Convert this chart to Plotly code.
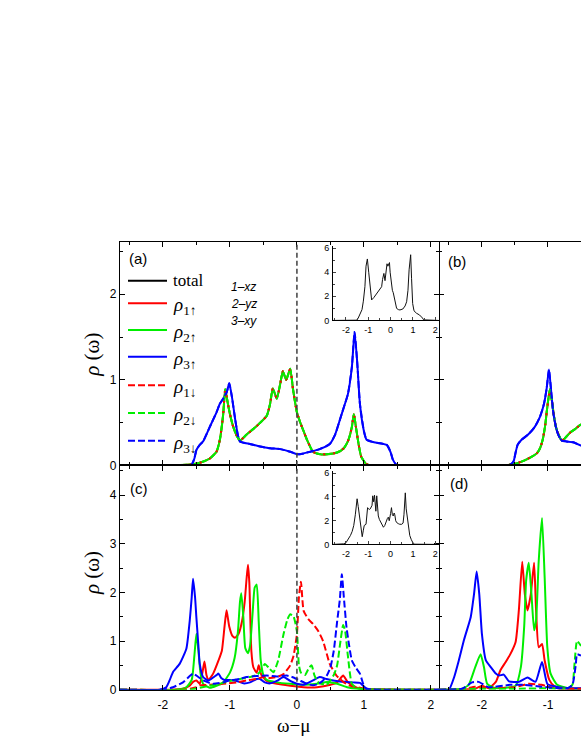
import plotly.graph_objects as go

# ---------------- data ----------------
# panel (a): paramagnetic, rho1 = rho2, up = down
a_x12 = [-2.64, -1.9, -1.6, -1.45, -1.3, -1.2, -1.15, -1.1, -1.07, -1.03, -1.0, -0.95, -0.9, -0.85, -0.75, -0.6, -0.45, -0.4, -0.36, -0.3, -0.25, -0.21, -0.16, -0.1, -0.06, -0.03, 0.0, 0.05, 0.1, 0.15, 0.24, 0.35, 0.45, 0.6, 0.7, 0.77, 0.82, 0.85, 0.88, 0.92, 0.96, 1.03, 1.1, 2.12]
a_rho12 = [0, 0, 0.01, 0.03, 0.08, 0.16, 0.3, 0.6, 0.89, 0.72, 0.6, 0.45, 0.35, 0.29, 0.36, 0.46, 0.58, 0.72, 0.9, 0.78, 0.95, 1.1, 1.0, 1.13, 0.9, 0.75, 0.62, 0.5, 0.4, 0.3, 0.16, 0.13, 0.13, 0.15, 0.2, 0.3, 0.45, 0.6, 0.45, 0.25, 0.1, 0.02, 0, 0]
a_x3 = [-2.64, -1.6, -1.57, -1.53, -1.5, -1.45, -1.4, -1.3, -1.2, -1.15, -1.1, -1.05, -1.01, -0.97, -0.92, -0.88, -0.85, -0.7, -0.55, -0.4, -0.25, -0.1, 0.0, 0.1, 0.2, 0.34, 0.49, 0.57, 0.64, 0.7, 0.76, 0.82, 0.86, 0.9, 0.94, 1.0, 1.04, 1.15, 1.34, 1.4, 1.43, 1.48, 1.55, 2.12]
a_rho3 = [0, 0, 0.01, 0.08, 0.18, 0.24, 0.28, 0.45, 0.62, 0.72, 0.78, 0.85, 0.96, 0.8, 0.53, 0.35, 0.28, 0.25, 0.22, 0.2, 0.19, 0.16, 0.13, 0.14, 0.16, 0.19, 0.25, 0.36, 0.53, 0.68, 0.83, 1.15, 1.56, 1.2, 0.72, 0.4, 0.3, 0.27, 0.24, 0.15, 0.07, 0.01, 0, 0]

# panel (b)
b_x12 = [-2.65, -1.65, -1.5, -1.38, -1.25, -1.17, -1.12, -1.08, -1.04, -1.02, -0.99, -0.97, -0.94, -0.91, -0.88, -0.84, -0.79, -0.74, -0.67, -0.58, -0.5]
b_rho12 = [0, 0, 0.02, 0.05, 0.1, 0.14, 0.2, 0.3, 0.48, 0.62, 0.8, 0.89, 0.75, 0.58, 0.45, 0.36, 0.29, 0.32, 0.38, 0.43, 0.48]
b_x3 = [-2.65, -1.62, -1.57, -1.52, -1.49, -1.46, -1.4, -1.3, -1.2, -1.12, -1.06, -1.02, -0.985, -0.95, -0.92, -0.88, -0.84, -0.79, -0.72, -0.62, -0.5]
b_rho3 = [0, 0, 0.01, 0.05, 0.15, 0.24, 0.3, 0.36, 0.45, 0.57, 0.72, 0.9, 1.12, 0.85, 0.62, 0.45, 0.35, 0.29, 0.28, 0.27, 0.23]

# panel (c)
c_x_r_up = [-2.64, -1.9, -1.7, -1.6, -1.55, -1.5, -1.45, -1.41, -1.38, -1.35, -1.32, -1.25, -1.17, -1.12, -1.08, -1.05, -1.01, -0.96, -0.92, -0.87, -0.82, -0.78, -0.75, -0.73, -0.71, -0.68, -0.65, -0.6, -0.57, -0.53, -0.45, -0.3, -0.1, 0.1, 0.3, 0.5, 0.6, 0.69, 0.76, 0.84, 0.95, 2.12]
c_r_up = [0, 0, 0.02, 0.08, 0.16, 0.19, 0.12, 0.35, 0.58, 0.3, 0.2, 0.33, 0.6, 0.8, 1.3, 1.63, 1.3, 1.1, 1.07, 1.15, 1.4, 1.8, 2.3, 2.57, 2.2, 0.8, 0.46, 0.35, 0.5, 0.3, 0.18, 0.12, 0.08, 0.05, 0.05, 0.1, 0.15, 0.29, 0.15, 0.08, 0.02, 0]
c_x_g_up = [-2.64, -1.8, -1.65, -1.57, -1.53, -1.5, -1.47, -1.44, -1.4, -1.3, -1.2, -1.1, -1.0, -0.93, -0.88, -0.85, -0.83, -0.8, -0.77, -0.73, -0.7, -0.66, -0.63, -0.6, -0.57, -0.54, -0.5, -0.45, -0.3, -0.1, 0.1, 0.3, 0.45, 0.6, 0.75, 0.9, 2.12]
c_g_up = [0, 0, 0.05, 0.2, 0.7, 1.15, 0.8, 0.35, 0.12, 0.04, 0.08, 0.15, 0.35, 0.65, 1.2, 1.8, 1.98, 1.5, 0.85, 0.75, 0.9, 1.6, 2.1, 2.16, 1.4, 0.6, 0.3, 0.2, 0.15, 0.12, 0.1, 0.12, 0.16, 0.12, 0.05, 0.02, 0]
c_x_b_up = [-2.64, -2.05, -1.95, -1.9, -1.85, -1.75, -1.65, -1.6, -1.57, -1.55, -1.52, -1.5, -1.47, -1.45, -1.4, -1.32, -1.25, -1.2, -1.17, -1.13, -1.08, -1.0, -0.9, -0.8, -0.7, -0.6, -0.55, -0.48, -0.4, -0.3, -0.2, -0.1, 0.0, 0.1, 0.24, 0.34, 0.44, 0.54, 0.64, 0.74, 0.84, 0.94, 1.01, 1.05, 2.12]
c_b_up = [0, 0, 0.05, 0.19, 0.36, 0.53, 0.84, 1.41, 1.9, 2.28, 1.9, 1.48, 0.9, 0.53, 0.26, 0.19, 0.25, 0.3, 0.33, 0.24, 0.2, 0.2, 0.18, 0.13, 0.15, 0.22, 0.22, 0.15, 0.13, 0.18, 0.26, 0.18, 0.12, 0.1, 0.19, 0.26, 0.22, 0.19, 0.17, 0.16, 0.15, 0.14, 0.05, 0.0, 0]
c_x_r_dn = [-2.64, -1.7, -1.5, -1.45, -1.3, -1.1, -0.9, -0.75, -0.6, -0.5, -0.4, -0.3, -0.2, -0.1, -0.05, 0.0, 0.03, 0.06, 0.1, 0.17, 0.24, 0.32, 0.39, 0.49, 0.59, 0.7, 0.8, 0.94, 1.05, 2.12]
c_r_dn = [0, 0, 0.05, 0.09, 0.1, 0.12, 0.15, 0.19, 0.22, 0.26, 0.24, 0.26, 0.32, 0.5, 0.7, 1.14, 1.9, 2.22, 1.62, 1.45, 1.35, 1.2, 1.0, 0.53, 0.29, 0.15, 0.08, 0.04, 0.01, 0]
c_x_g_dn = [-2.64, -1.6, -1.45, -1.3, -1.15, -1.0, -0.85, -0.7, -0.6, -0.53, -0.48, -0.42, -0.35, -0.28, -0.2, -0.14, -0.1, -0.05, 0.0, 0.03, 0.06, 0.12, 0.18, 0.22, 0.26, 0.32, 0.44, 0.55, 0.6, 0.64, 0.69, 0.72, 0.76, 0.82, 0.9, 2.12]
c_g_dn = [0, 0, 0.04, 0.08, 0.12, 0.18, 0.22, 0.26, 0.3, 0.4, 0.53, 0.45, 0.36, 0.6, 1.14, 1.45, 1.55, 1.5, 1.2, 0.5, 0.35, 0.3, 0.45, 0.5, 0.3, 0.15, 0.1, 0.3, 0.5, 0.9, 1.33, 1.2, 0.7, 0.12, 0.03, 0]
c_x_b_dn = [-2.64, -2.0, -1.85, -1.7, -1.6, -1.55, -1.48, -1.4, -1.25, -1.1, -1.0, -0.85, -0.75, -0.6, -0.45, -0.3, -0.15, -0.05, 0.04, 0.15, 0.24, 0.32, 0.39, 0.45, 0.5, 0.55, 0.6, 0.64, 0.67, 0.7, 0.74, 0.78, 0.82, 0.88, 0.94, 1.01, 1.08, 2.12]
c_b_dn = [0, 0, 0.05, 0.15, 0.28, 0.33, 0.27, 0.19, 0.12, 0.15, 0.19, 0.22, 0.26, 0.28, 0.29, 0.27, 0.29, 0.25, 0.19, 0.12, 0.09, 0.12, 0.19, 0.3, 0.46, 0.8, 1.4, 1.85, 2.37, 1.9, 1.28, 0.9, 0.6, 0.45, 0.33, 0.05, 0.01, 0]

# panel (d) (only the visible part)
d_x_r_up = [-2.65, -2.1, -2.0, -1.9, -1.79, -1.72, -1.64, -1.57, -1.49, -1.44, -1.39, -1.35, -1.31, -1.26, -1.21, -1.18, -1.14, -1.09, -1.05, -0.98, -0.91, -0.8, -0.5]
d_r_up = [0, 0.02, 0.08, 0.03, 0.16, 0.4, 0.57, 0.73, 0.98, 1.65, 2.63, 1.96, 1.63, 1.96, 2.61, 1.63, 0.87, 0.94, 0.6, 0.2, 0.08, 0.03, 0.02]
d_x_g_up = [-2.65, -2.3, -2.2, -2.1, -2.02, -1.97, -1.92, -1.79, -1.49, -1.41, -1.36, -1.33, -1.29, -1.25, -1.21, -1.18, -1.14, -1.09, -1.05, -1.01, -0.96, -0.86, -0.7, -0.5]
d_g_up = [0, 0.02, 0.1, 0.47, 0.73, 0.47, 0.12, 0.03, 0.08, 0.47, 1.3, 2.25, 2.61, 1.96, 1.22, 1.43, 2.65, 3.53, 2.3, 0.87, 0.33, 0.1, 0.03, 0.02]
d_x_b_up = [-2.65, -2.5, -2.42, -2.35, -2.27, -2.17, -2.12, -2.08, -2.04, -2.0, -1.94, -1.87, -1.79, -1.74, -1.67, -1.59, -1.44, -1.31, -1.19, -1.09, -1.01, -0.91, -0.7, -0.5]
d_b_up = [0, 0.0, 0.26, 0.6, 1.03, 1.49, 1.96, 2.43, 1.96, 1.14, 0.6, 0.47, 0.33, 0.29, 0.31, 0.17, 0.16, 0.25, 0.16, 0.57, 0.12, 0.07, 0.03, 0.03]
d_x_r_dn = [-2.65, -2.3, -2.1, -1.9, -1.5, -1.3, -1.1, -0.9, -0.5]
d_r_dn = [0, 0.01, 0.06, 0.03, 0.05, 0.12, 0.1, 0.03, 0.02]
d_x_g_dn = [-2.65, -2.0, -1.5, -1.0, -0.7, -0.63, -0.6, -0.56, -0.5]
d_g_dn = [0, 0.02, 0.02, 0.03, 0.03, 0.1, 0.5, 1.0, 0.9]
d_x_b_dn = [-2.65, -2.3, -2.15, -2.05, -1.9, -1.57, -1.37, -1.1, -0.7, -0.63, -0.58, -0.56, -0.5]
d_b_dn = [0, 0.02, 0.15, 0.16, 0.05, 0.1, 0.1, 0.06, 0.03, 0.1, 0.5, 0.73, 0.7]

# insets: total DOS
ia_x = [-2.6, -1.6, -1.52, -1.45, -1.37, -1.28, -1.22, -1.15, -1.1, -1.04, -0.98, -0.92, -0.85, -0.75, -0.63, -0.5, -0.4, -0.36, -0.3, -0.25, -0.2, -0.16, -0.12, -0.08, -0.05, -0.02, 0.03, 0.08, 0.12, 0.2, 0.27, 0.35, 0.42, 0.55, 0.65, 0.72, 0.78, 0.83, 0.87, 0.9, 0.94, 0.99, 1.05, 1.16, 1.3, 1.39, 1.43, 1.48, 2.15]
ia_total = [0, 0, 0.02, 0.2, 0.5, 0.9, 1.6, 2.8, 4.5, 5.1, 4.0, 2.6, 1.7, 1.9, 2.2, 2.5, 2.8, 3.4, 3.9, 3.3, 4.5, 4.7, 4.5, 4.8, 4.8, 4.0, 3.0, 2.5, 2.3, 1.6, 1.0, 0.9, 0.87, 0.95, 1.2, 1.55, 2.5, 4.2, 5.4, 5.45, 3.5, 1.4, 0.8, 0.6, 0.45, 0.33, 0.2, 0.05, 0]
ic_x = [-2.6, -2.25, -2.1, -2.0, -1.9, -1.8, -1.72, -1.65, -1.58, -1.53, -1.5, -1.45, -1.4, -1.33, -1.27, -1.22, -1.18, -1.1, -1.06, -1.03, -0.99, -0.95, -0.91, -0.87, -0.83, -0.8, -0.76, -0.72, -0.69, -0.66, -0.62, -0.58, -0.55, -0.5, -0.44, -0.38, -0.32, -0.26, -0.2, -0.14, -0.1, -0.06, 0.0, 0.04, 0.08, 0.12, 0.16, 0.19, 0.23, 0.27, 0.35, 0.41, 0.5, 0.56, 0.6, 0.63, 0.66, 0.7, 0.75, 0.8, 0.86, 0.93, 1.0, 1.08, 2.15]
ic_total = [0, 0, 0.05, 0.14, 0.4, 0.75, 1.1, 1.6, 2.5, 3.4, 3.85, 3.2, 2.55, 1.6, 0.65, 1.2, 1.6, 1.7, 2.5, 3.1, 3.0, 2.95, 3.0, 3.25, 3.3, 4.1, 3.6, 4.15, 3.6, 2.8, 4.1, 3.0, 2.4, 2.1, 1.85, 1.6, 1.45, 1.6, 2.0, 2.2, 2.3, 2.0, 2.6, 3.1, 2.5, 2.4, 2.65, 2.5, 2.0, 1.85, 1.75, 1.7, 1.7, 1.8, 2.5, 3.5, 4.35, 3.0, 2.15, 1.2, 0.75, 0.4, 0.14, 0.02, 0]

x_tick_vals = [-2, -1, 0, 1, 2]
x_tick_text = ["-2", "-1", "0", "1", "2"]
legend_labels = ["total", "<i>ρ</i><sub>1↑</sub>", "<i>ρ</i><sub>2↑</sub>", "<i>ρ</i><sub>3↑</sub>",
                 "<i>ρ</i><sub>1↓</sub>", "<i>ρ</i><sub>2↓</sub>", "<i>ρ</i><sub>3↓</sub>"]
orbital_notes = ["1–xz", "2–yz", "3–xy"]
panel_tags = ["(a)", "(b)", "(c)", "(d)"]

# ---------------- styling ----------------
W, H = 581, 752
RED, GREEN, BLUE = "#FF0000", "#00EE00", "#0000FF"
DASH = "7px,3px"
DOTS = "2px,8px"


def PX(p):
    return p / W


def PY(p):
    return 1 - p / H


fig = go.Figure()


def add(x, y, color, dash, xa, ya, width=2.0):
    fig.add_trace(go.Scatter(
        x=x, y=y, mode="lines", xaxis=xa, yaxis=ya, showlegend=False,
        line=dict(color=color, width=width, dash=dash,
                  shape="spline", smoothing=0.5),
        hoverinfo="skip"))


# panel (a)
add(a_x12, a_rho12, RED, "solid", "x", "y")
add(a_x12, a_rho12, GREEN, "solid", "x", "y")
add(a_x3, a_rho3, BLUE, "solid", "x", "y")
add(a_x12, a_rho12, GREEN, DASH, "x", "y")
add(a_x12, a_rho12, RED, DOTS, "x", "y")
add(a_x3, a_rho3, BLUE, DASH, "x", "y")
# panel (b)
add(b_x12, b_rho12, RED, "solid", "x2", "y2")
add(b_x12, b_rho12, GREEN, "solid", "x2", "y2")
add(b_x3, b_rho3, BLUE, "solid", "x2", "y2")
add(b_x12, b_rho12, GREEN, DASH, "x2", "y2")
add(b_x12, b_rho12, RED, DOTS, "x2", "y2")
add(b_x3, b_rho3, BLUE, DASH, "x2", "y2")
# panel (c)
add(c_x_r_up, c_r_up, RED, "solid", "x3", "y3")
add(c_x_g_up, c_g_up, GREEN, "solid", "x3", "y3")
add(c_x_b_up, c_b_up, BLUE, "solid", "x3", "y3")
add(c_x_r_dn, c_r_dn, RED, DASH, "x3", "y3")
add(c_x_g_dn, c_g_dn, GREEN, DASH, "x3", "y3")
add(c_x_b_dn, c_b_dn, BLUE, DASH, "x3", "y3")
# panel (d)
add(d_x_r_up, d_r_up, RED, "solid", "x4", "y4")
add(d_x_g_up, d_g_up, GREEN, "solid", "x4", "y4")
add(d_x_b_up, d_b_up, BLUE, "solid", "x4", "y4")
add(d_x_r_dn, d_r_dn, RED, DASH, "x4", "y4")
add(d_x_g_dn, d_g_dn, GREEN, DASH, "x4", "y4")
add(d_x_b_dn, d_b_dn, BLUE, DASH, "x4", "y4")
# insets
fig.add_trace(go.Scatter(x=ia_x, y=ia_total, mode="lines", xaxis="x5", yaxis="y5",
                         showlegend=False, line=dict(color="#111111", width=1), hoverinfo="skip"))
fig.add_trace(go.Scatter(x=ic_x, y=ic_total, mode="lines", xaxis="x6", yaxis="y6",
                         showlegend=False, line=dict(color="#111111", width=1), hoverinfo="skip"))

TICKFONT = dict(family="Liberation Sans, Arial, sans-serif", size=12, color="black")
SMALLFONT = dict(family="Liberation Sans, Arial, sans-serif", size=9, color="black")


def main_axis(**kw):
    d = dict(showline=True, linecolor="black", linewidth=1.3, ticks="inside", ticklen=5,
             tickwidth=1.2, tickcolor="black", showgrid=False, zeroline=False,
             tickfont=TICKFONT, dtick=1, tick0=0, mirror="ticks",
             minor=dict(ticks="inside", ticklen=3, tickwidth=1, dtick=0.5, tickcolor="black"))
    d.update(kw)
    return d


XL = [PX(120), PX(439)]
XR = [PX(439), 1.0]
YT = [PY(469), PY(243)]
YB = [PY(696), PY(469)]
XRANGE_L = [-2.64, 2.12]
XRANGE_R = [-2.65, -0.5]
XT = dict(tickmode="array", tickvals=x_tick_vals, ticktext=x_tick_text)

lay = dict(
    width=W, height=H, margin=dict(l=0, r=0, t=0, b=0),
    paper_bgcolor="white", plot_bgcolor="rgba(0,0,0,0)", showlegend=False,
    xaxis=main_axis(domain=XL, range=XRANGE_L, anchor="y", showticklabels=False, **XT),
    yaxis=main_axis(domain=YT, range=[0, 2.61], anchor="x"),
    xaxis2=main_axis(domain=XR, range=XRANGE_R, anchor="y2", showticklabels=False, **XT),
    yaxis2=main_axis(domain=YT, range=[0, 2.61], anchor="x2", showticklabels=False,
                     mirror=False, showline=False),
    xaxis3=main_axis(domain=XL, range=XRANGE_L, anchor="y3", ticklabelstandoff=4, **XT),
    yaxis3=main_axis(domain=YB, range=[0, 4.61], anchor="x3"),
    xaxis4=main_axis(domain=XR, range=XRANGE_R, anchor="y4", ticklabelstandoff=4, **XT),
    yaxis4=main_axis(domain=YB, range=[0, 4.61], anchor="x4", showticklabels=False,
                     mirror=False, showline=False),
)


def inset_axes(xdom, ydom):
    xa = dict(domain=xdom, range=[-2.58, 2.17], showline=True, linecolor="black", linewidth=1,
              ticks="inside", ticklen=3, tickwidth=1, showgrid=False,
              zeroline=False, tickfont=SMALLFONT, ticklabelstandoff=1,
              minor=dict(ticks="inside", ticklen=2, dtick=0.5), **XT)
    ya = dict(domain=ydom, range=[0, 6.2], showline=True, linecolor="black", linewidth=1,
              ticks="inside", ticklen=3, tickwidth=1, dtick=2, tick0=0, showgrid=False,
              zeroline=False, tickfont=SMALLFONT, ticklabelstandoff=1,
              minor=dict(ticks="inside", ticklen=2, dtick=1))
    return xa, ya


xa5, ya5 = inset_axes([PX(333), PX(439)], [PY(322.3), PY(322.3 - 6.2 * 12.2)])
xa5["anchor"] = "y5"; ya5["anchor"] = "x5"
xa6, ya6 = inset_axes([PX(333), PX(439)], [PY(549), PY(549 - 6.2 * 12.0)])
xa6["anchor"] = "y6"; ya6["anchor"] = "x6"
lay.update(xaxis5=xa5, yaxis5=ya5, xaxis6=xa6, yaxis6=ya6)
fig.update_layout(**lay)

shapes = []
# Fermi level dashed line across (a) and (c)
shapes.append(dict(type="line", xref="x", yref="paper", x0=0, x1=0, y0=PY(696), y1=PY(243),
                   line=dict(color="#404040", width=1.5, dash="5px,3px"), layer="above"))

# hand-drawn legend in panel (a)
leg_rows = [282, 305, 332, 359, 388, 416, 444]
leg_colors = ["black", RED, GREEN, BLUE, RED, GREEN, BLUE]
leg_dash = [False, False, False, False, True, True, True]
annotations = []
for row, col, dsh, lab in zip(leg_rows, leg_colors, leg_dash, legend_labels):
    shapes.append(dict(type="line", xref="paper", yref="paper", x0=PX(128), x1=PX(167),
                       y0=PY(row), y1=PY(row),
                       line=dict(color=col, width=2, dash=DASH if dsh else "solid")))
    is_total = lab == "total"
    annotations.append(dict(xref="paper", yref="paper", x=PX(171), y=PY(row + (0 if is_total else 3)),
                            text=lab, showarrow=False, xanchor="left", yanchor="middle",
                            font=dict(family="Liberation Serif, Times New Roman, serif",
                                      size=17 if is_total else 19, color="black")))

for note, row in zip(orbital_notes, [288, 306, 323]):
    annotations.append(dict(xref="paper", yref="paper", x=PX(229), y=PY(row), text=f"<i>{note}</i>",
                            showarrow=False, xanchor="left", yanchor="middle",
                            font=dict(family="Liberation Sans, Arial, sans-serif", size=12, color="black")))

for tag, (tx, ty) in zip(panel_tags, [(127, 260), (446, 263), (128, 492), (448, 487)]):
    annotations.append(dict(xref="paper", yref="paper", x=PX(tx), y=PY(ty), text=tag,
                            showarrow=False, xanchor="left", yanchor="middle",
                            font=dict(family="Liberation Sans, Arial, sans-serif", size=15, color="black")))

# axis titles
for cy in [357, 578]:
    annotations.append(dict(xref="paper", yref="paper", x=PX(92), y=PY(cy),
                            text="<i>ρ</i> (ω)", textangle=-90, showarrow=False,
                            xanchor="center", yanchor="middle",
                            font=dict(family="Liberation Serif, Times New Roman, serif", size=21, color="black")))
annotations.append(dict(xref="paper", yref="paper", x=PX(293), y=PY(732), text="ω−μ",
                        showarrow=False, xanchor="center", yanchor="middle",
                        font=dict(family="Liberation Serif, Times New Roman, serif", size=19, color="black")))

fig.update_layout(shapes=shapes, annotations=annotations)
fig.write_html("out.html", config={"displayModeBar": False},
               post_script="document.body.style.margin='0px';")
